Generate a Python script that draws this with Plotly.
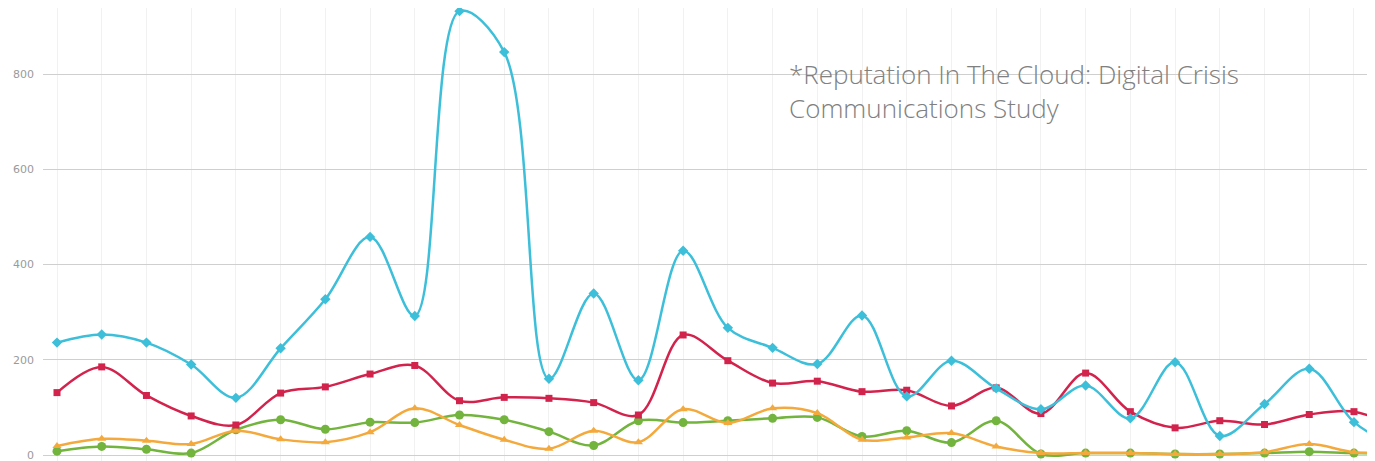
import plotly.graph_objects as go

# ---- data ----
periods = list(range(31))
cyan_vals = [236, 253, 236, 190, 120, 224, 327, 458, 292, 932, 846, 160, 339, 157, 429,
             267, 225, 191, 293, 123, 198, 140, 96, 146, 77, 195, 40, 107, 181, 69, 15]
red_vals = [131, 185, 125, 82, 63, 130, 143, 170, 188, 114, 121, 119, 110, 84, 252,
            198, 151, 155, 133, 136, 103, 141, 87, 172, 91, 57, 72, 64, 85, 91, 55]
orange_vals = [19, 34, 30, 23, 51, 33, 27, 48, 98, 63, 32, 13, 51, 27, 96,
               67, 98, 88, 32, 37, 46, 18, 4, 4, 4, 2, 2, 6, 23, 6, 5]
green_vals = [8, 18, 12, 4, 53, 74, 54, 69, 68, 84, 74, 49, 20, 72, 68,
              72, 77, 79, 39, 51, 26, 72, 2, 4, 4, 2, 2, 4, 7, 4, 4]
y_ticks = [0, 200, 400, 600, 800]
note_text = "*Reputation In The Cloud: Digital Crisis<br>Communications Study"

series = [
    ("Cyan", cyan_vals, "#3dbfd9", "diamond", 8),
    ("Red", red_vals, "#d2234d", "square", 7),
    ("Orange", orange_vals, "#f4a93c", "triangle-up", 8),
    ("Green", green_vals, "#72b43d", "circle", 9),
]

fig = go.Figure()
for name, vals, color, sym, size in reversed(series):
    fig.add_trace(go.Scatter(
        x=periods, y=vals, name=name, mode="lines+markers",
        line=dict(color=color, width=2.5, shape="spline", smoothing=1.0),
        marker=dict(color=color, symbol=sym, size=size),
        cliponaxis=True,
    ))

fig.add_annotation(
    x=0.5586, y=0.898, xref="paper", yref="paper", xanchor="left", yanchor="top",
    text=note_text, showarrow=False, align="left",
    font=dict(family="Open Sans", size=26, color="#808080", weight=300),
)

# the page body has an 8px margin, so the figure is sized to fill the rest of the window
fig.update_layout(
    width=1367, height=453,
    margin=dict(l=35, r=0, t=0, b=0, autoexpand=False),
    paper_bgcolor="white", plot_bgcolor="white",
    showlegend=False,
    xaxis=dict(range=[-0.313, 29.47], showticklabels=False, showgrid=True,
               gridcolor="#f1f1f1", gridwidth=1, zeroline=False, dtick=1,
               showline=False, automargin=False),
    yaxis=dict(range=[-12.6, 938.6], tickvals=y_ticks, ticktext=[str(v) for v in y_ticks],
               showgrid=True, gridcolor="#cfcfcf", gridwidth=1, zeroline=False, ticks="",
               tickfont=dict(family="DejaVu Sans", size=11, color="#9a9a9a"),
               ticklabelstandoff=8, ticklabeloverflow="allow", automargin=False),
)

fig.write_html("out.html")
